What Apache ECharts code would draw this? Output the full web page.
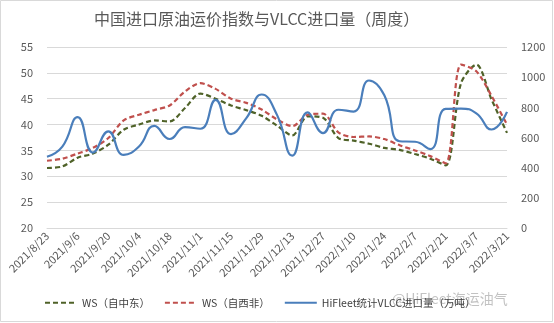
<!DOCTYPE html>
<html><head><meta charset="utf-8">
<script src="https://cdn.jsdelivr.net/npm/echarts@6/dist/echarts.min.js"></script>
<style>html,body{margin:0;padding:0;background:#fff}#c{width:554px;height:323px}</style>
</head><body><div id="c"></div>
<script>
var categories = ["2021/8/23","2021/8/30","2021/9/6","2021/9/13","2021/9/20","2021/9/27","2021/10/4","2021/10/11","2021/10/18","2021/10/25","2021/11/1","2021/11/8","2021/11/15","2021/11/22","2021/11/29","2021/12/6","2021/12/13","2021/12/20","2021/12/27","2022/1/3","2022/1/10","2022/1/17","2022/1/24","2022/1/31","2022/2/7","2022/2/14","2022/2/21","2022/2/28","2022/3/7","2022/3/14","2022/3/21"];
var wsMiddleEast = [31.6,31.9,33.6,34.4,36.1,39.0,40.0,40.8,40.6,43.2,46.0,45.0,43.7,42.8,41.7,39.8,37.9,41.6,41.3,37.4,36.9,36.3,35.5,35.1,34.3,33.4,32.1,48.0,51.6,44.8,38.4];
var wsWestAfrica = [33.0,33.4,34.4,35.5,37.4,40.8,41.9,42.8,43.7,46.4,48.0,46.9,45.0,44.2,42.9,41.0,39.7,41.9,42.1,38.5,37.6,37.7,37.2,36.0,35.0,33.9,32.5,51.6,50.3,45.5,40.0];
var vlccImports = [472,540,735,500,640,485,540,677,590,669,658,850,623,728,885,750,480,766,629,784,772,978,880,575,572,523,790,792,760,653,770];
var seriesNames = ["WS（自中东）","WS（自西非）","HiFleet统计VLCC进口量（万吨）"];
var title = "中国进口原油运价指数与VLCC进口量（周度）";

var chart = echarts.init(document.getElementById('c'));
var font = "'Noto Sans CJK SC', 'DejaVu Sans', sans-serif";
chart.setOption({
  animation: false,
  textStyle: {fontFamily: font},
  title: {text: title, left: 89, top: 6, textStyle: {fontSize: 16, fontWeight: 'normal', color: '#595959', fontFamily: font}},
  grid: {left: 47, right: 47, top: 47, bottom: 95},
  legend: {
    bottom: 10, left: 39, itemWidth: 32, itemHeight: 10, itemGap: 14,
    textStyle: {fontSize: 10.5, color: '#404040', fontFamily: font},
    itemStyle: {opacity: 0},
    data: seriesNames
  },
  xAxis: {
    type: 'category', data: categories, boundaryGap: false,
    axisLine: {lineStyle: {color: '#d9d9d9'}}, axisTick: {show: false},
    axisLabel: {interval: 1, rotate: 45, fontSize: 11, color: '#595959', margin: 6}
  },
  yAxis: [
    {type: 'value', min: 20, max: 55, interval: 5, axisLine: {show: false}, axisTick: {show: false},
     axisLabel: {fontSize: 11, color: '#595959', margin: 14}, splitLine: {lineStyle: {color: '#d9d9d9', width: 1}}},
    {type: 'value', min: 0, max: 1200, interval: 200, axisLine: {show: false}, axisTick: {show: false},
     axisLabel: {fontSize: 11, color: '#595959', margin: 14, formatter: function (v) { return String(v); }}, splitLine: {show: false}}
  ],
  series: [
    {name: seriesNames[0], type: 'line', data: wsMiddleEast, yAxisIndex: 0, symbol: 'none', smooth: 0.3,
     lineStyle: {color: '#4f6228', width: 2.2, type: [5, 3]}, itemStyle: {color: '#4f6228'}},
    {name: seriesNames[1], type: 'line', data: wsWestAfrica, yAxisIndex: 0, symbol: 'none', smooth: 0.3,
     lineStyle: {color: '#c0504d', width: 2.2, type: [5, 3]}, itemStyle: {color: '#c0504d'}},
    {name: seriesNames[2], type: 'line', data: vlccImports, yAxisIndex: 1, symbol: 'none', smooth: 0.5,
     lineStyle: {color: '#4a7ebb', width: 2.2}, itemStyle: {color: '#4a7ebb'}}
  ],
  graphic: [
    {type: 'rect', shape: {x: 0.5, y: 0.5, width: 552, height: 321}, style: {fill: 'none', stroke: '#d9d9d9', lineWidth: 1}, silent: true},
    {type: 'text', left: 392, top: 292, style: {text: '@HiFleet海运油气', fontSize: 14, fill: 'rgba(120,120,120,0.45)', fontFamily: font}, silent: true}
  ]
});
</script></body></html>
